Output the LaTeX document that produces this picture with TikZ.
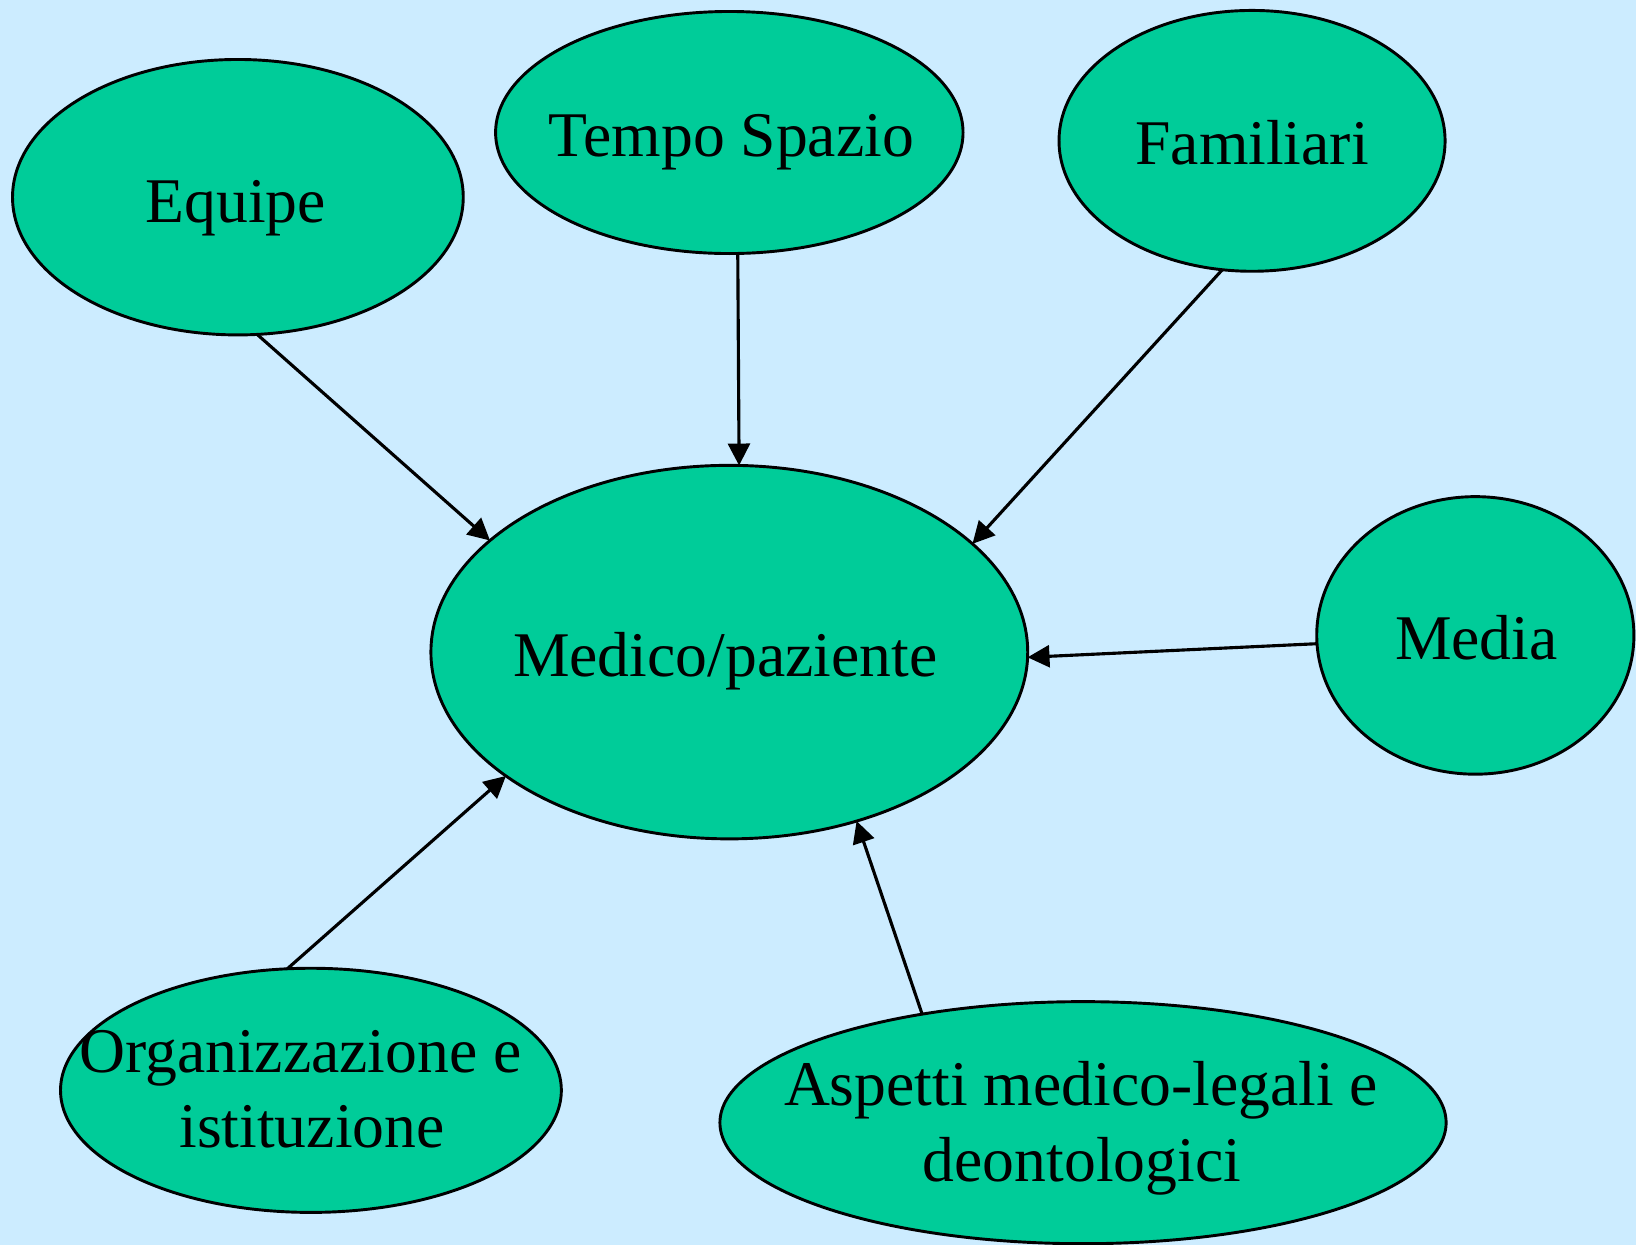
\documentclass[tikz,border=0pt]{standalone}
\usepackage{fontspec}
\setmainfont{Liberation Serif}
\usetikzlibrary{shapes.geometric,arrows.meta}
\definecolor{bgblue}{RGB}{204,236,255}
\definecolor{ellgreen}{RGB}{0,204,153}
\begin{document}
\begin{tikzpicture}[x=0.5pt,y=-0.5pt,
  bubble/.style={ellipse,draw=black,fill=ellgreen,line width=1.4pt,inner sep=0pt,outer sep=0pt},
  lbl/.style={anchor=base,inner sep=0pt,align=center,font=\fontsize{30.5}{36}\selectfont},
  conn/.style={line width=1.5pt,-{Triangle[length=10.5pt,width=10.5pt]}}]
\fill[bgblue] (0,0) rectangle (1568,1193);
\useasboundingbox (0,0) rectangle (1568,1193);
% ellipses
\node[bubble,minimum width=216pt,minimum height=132pt] (eq) at (228,189) {};
\node[bubble,minimum width=224pt,minimum height=116pt] (ts) at (699,127) {};
\node[bubble,minimum width=185pt,minimum height=125pt] (fa) at (1200,135) {};
\node[bubble,minimum width=286pt,minimum height=179pt] (mp) at (699,625) {};
\node[bubble,minimum width=152pt,minimum height=133pt] (me) at (1414,609) {};
\node[bubble,minimum width=240pt,minimum height=117pt] (or) at (298,1045) {};
\node[bubble,minimum width=348pt,minimum height=116pt] (as) at (1038,1076) {};
% labels
\node[lbl] (teq) at (226,213) {Equipe};
\node[lbl] (tts) at (701,150) {Tempo Spazio};
\node[lbl] (tfa) at (1200,158) {Familiari};
\node[lbl] (tmp) at (695,648) {Medico/paziente};
\node[lbl] (tme) at (1415,632) {Media};
\node[lbl] (tor1) at (288,1028) {Organizzazione e};
\node[lbl] (tor2) at (299,1100) {istituzione};
\node[lbl] (tas1) at (1036,1060) {Aspetti medico-legali e};
\node[lbl] (tas2) at (1037,1132) {deontologici};
% connectors
\draw[conn] (eq.-82.7) -- (mp.155.3);
\draw[conn] (ts.-86.1) -- (mp.87.5);
\draw[conn] (fa.-103.5) -- (mp.24.7);
\draw[conn] (me.183.4) -- (mp.-1.4);
\draw[conn] (or.101.6) -- (mp.209.2);
\draw[conn] (as.146.1) -- (mp.-53.9);
\end{tikzpicture}
\end{document}
